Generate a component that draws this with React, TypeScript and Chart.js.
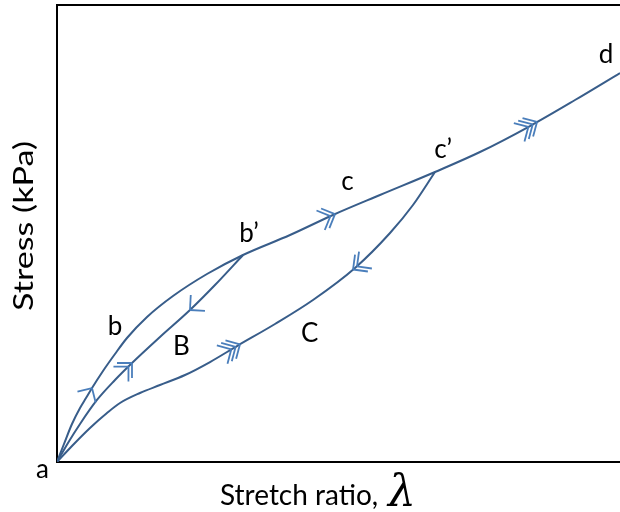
import React, { useEffect, useRef } from "react";
import { Chart, registerables } from "chart.js";

Chart.register(...registerables);

// Loading path a → b → b’ → c → c’ → d
const upperX = [1.0, 1.0124, 1.0266, 1.0409, 1.0515, 1.0622, 1.0817, 1.103, 1.1243, 1.1599, 1.206, 1.2664, 1.3304, 1.4139, 1.4902, 1.5737, 1.6714, 1.7513, 1.8401, 1.9201, 2.0];
const upperY = [0, 3.94, 8.32, 11.82, 14.0, 16.19, 19.91, 23.63, 27.13, 31.73, 36.32, 41.14, 45.3, 49.67, 54.05, 58.42, 63.46, 67.83, 73.52, 79.21, 85.12];

// Path a – B – b’
const middleX = [1.0, 1.0195, 1.0409, 1.071, 1.103, 1.1332, 1.1829, 1.2362, 1.2806, 1.3304];
const middleY = [0, 4.16, 8.32, 13.57, 17.94, 21.66, 27.35, 33.26, 38.73, 45.3];

// Path a – C – c’
const lowerX = [1.0, 1.0266, 1.0586, 1.0888, 1.1119, 1.1474, 1.1829, 1.2274, 1.2718, 1.3197, 1.3872, 1.4547, 1.5293, 1.5915, 1.6323, 1.6714];
const lowerY = [0, 3.5, 7.44, 10.72, 12.91, 15.1, 16.85, 19.04, 21.88, 25.38, 30.2, 35.45, 42.45, 50.11, 56.24, 63.46];

// Point labels (data coordinates of the text baseline centre)
const labelText = ["a", "b", "B", "b’", "c", "C", "c’", "d"];
const labelX = [0.974, 1.103, 1.221, 1.341, 1.516, 1.449, 1.686, 1.975];
const labelY = [-3.5, 27.79, 23.41, 48.14, 59.52, 26.26, 66.52, 87.31];

// Direction arrows on the curves
const arrowSeries = [0, 1, 1, 2, 0, 2, 0];
const arrowAt = [1.0622, 1.1332, 1.2362, 1.325, 1.4938, 1.5258, 1.8526];
const arrowCount = [1, 2, 1, 3, 2, 2, 3];
const arrowReverse = [false, false, true, false, false, true, false];

const xTitle = "Stretch ratio,";
const xSymbol = "λ";
const yTitle = "Stress (kPa)";

const seriesX = [upperX, middleX, lowerX];
const seriesY = [upperY, middleY, lowerY];

const LINE = "#385D8A";
const ARROW = "#4A7EBB";

const toPoints = (xs: number[], ys: number[]) => xs.map((x, i) => ({ x, y: ys[i] }));

const decorPlugin = {
  id: "decor",
  afterDatasetsDraw(chart: any) {
    const ctx = chart.ctx as CanvasRenderingContext2D;
    const xs = chart.scales.x;
    const ys = chart.scales.y;
    ctx.save();
    ctx.strokeStyle = ARROW;
    ctx.lineWidth = 1.8;
    ctx.lineCap = "butt";
    for (let i = 0; i < arrowAt.length; i++) {
      const sx = seriesX[arrowSeries[i]];
      const sy = seriesY[arrowSeries[i]];
      let k = 0;
      while (k < sx.length - 2 && sx[k + 1] < arrowAt[i]) k++;
      const x0 = xs.getPixelForValue(sx[k]);
      const y0 = ys.getPixelForValue(sy[k]);
      const x1 = xs.getPixelForValue(sx[k + 1]);
      const y1 = ys.getPixelForValue(sy[k + 1]);
      const t = (arrowAt[i] - sx[k]) / (sx[k + 1] - sx[k]);
      const tx = x0 + (x1 - x0) * t;
      const ty = y0 + (y1 - y0) * t;
      let ux = x1 - x0;
      let uy = y1 - y0;
      const len = Math.hypot(ux, uy);
      ux /= len;
      uy /= len;
      if (arrowReverse[i]) {
        ux = -ux;
        uy = -uy;
      }
      const bx = -ux;
      const by = -uy;
      for (let j = 0; j < arrowCount[i]; j++) {
        const px = tx - ux * 5 * j;
        const py = ty - uy * 5 * j;
        for (const a of [Math.PI / 4, -Math.PI / 4]) {
          const c = Math.cos(a);
          const s = Math.sin(a);
          const ax = bx * c - by * s;
          const ay = bx * s + by * c;
          ctx.beginPath();
          ctx.moveTo(px, py);
          ctx.lineTo(px + ax * 15, py + ay * 15);
          ctx.stroke();
        }
      }
    }
    ctx.restore();
  },
  afterDraw(chart: any) {
    const ctx = chart.ctx as CanvasRenderingContext2D;
    const xs = chart.scales.x;
    const ys = chart.scales.y;
    const area = chart.chartArea;
    ctx.save();
    ctx.fillStyle = "#000";
    ctx.textBaseline = "alphabetic";
    ctx.textAlign = "center";
    ctx.font = "26px Lato";
    for (let i = 0; i < labelText.length; i++) {
      ctx.fillText(labelText[i], xs.getPixelForValue(labelX[i]), ys.getPixelForValue(labelY[i]));
    }
    // x-axis title
    ctx.textAlign = "left";
    ctx.font = "28px Lato";
    ctx.fillText(xTitle, area.left + 163, area.bottom + 43);
    ctx.font = "italic 44px 'DejaVu Serif'";
    ctx.fillText(xSymbol, area.left + 331, area.bottom + 44);
    // y-axis title
    ctx.font = "26px Lato";
    const w = ctx.measureText(yTitle).width;
    ctx.translate(area.left - 24, 226);
    ctx.rotate(-Math.PI / 2);
    ctx.scale(170 / w, 1);
    ctx.textAlign = "center";
    ctx.fillText(yTitle, 0, 0);
    ctx.restore();
  },
};

export default function App() {
  const ref = useRef<HTMLCanvasElement>(null);
  useEffect(() => {
    if (!ref.current) return;
    const axisCommon = {
      type: "linear" as const,
      min: 1,
      max: 2,
      grid: { display: false, drawTicks: false, tickLength: 0 },
      ticks: { display: false },
      border: { display: true, color: "#000", width: 2 },
    };
    const chart = new Chart(ref.current, {
      type: "line",
      data: {
        datasets: [upperX, middleX, lowerX].map((xs, i) => ({
          label: ["loading", "B", "C"][i],
          data: toPoints(xs, seriesY[i]),
          borderColor: LINE,
          borderWidth: 2,
          pointRadius: 0,
          fill: false,
          cubicInterpolationMode: "monotone" as const,
        })),
      },
      options: {
        animation: false,
        responsive: true,
        maintainAspectRatio: false,
        layout: { padding: { left: 57, top: 5, right: 0, bottom: 50 } },
        plugins: { legend: { display: false }, tooltip: { enabled: false } },
        scales: {
          x: { ...axisCommon, position: "bottom" },
          x2: { ...axisCommon, position: "top" },
          y: {
            type: "linear",
            min: 0,
            max: 100,
            position: "left",
            grid: { display: false, drawTicks: false, tickLength: 0 },
            ticks: { display: false },
            border: { display: true, color: "#000", width: 2 },
          },
        },
      },
      plugins: [decorPlugin],
    });
    return () => chart.destroy();
  }, []);
  return (
    <div style={{ position: "fixed", left: 0, top: 0, width: 620, height: 512, background: "#fff" }}>
      <canvas ref={ref} />
    </div>
  );
}
